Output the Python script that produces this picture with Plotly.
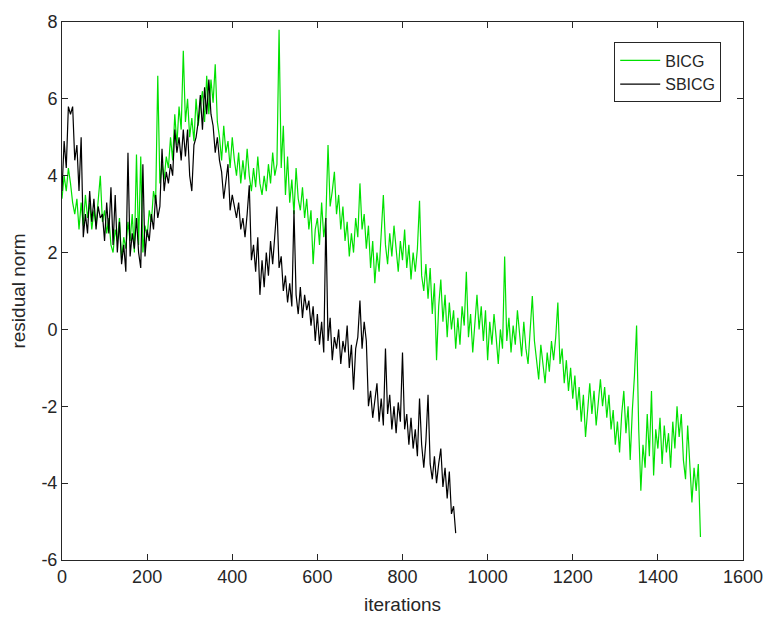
import numpy as np
import plotly.graph_objects as go

STEP = 5  # iteration spacing of the sampled values

# BICG residual norm, sampled every 5 iterations from 0 to 1500
bicg = [
    3.4, 4.0, 3.6, 4.2, 3.8, 3.3, 3.0, 3.4, 2.6, 3.3,
    2.7, 3.5, 2.9, 3.3, 2.6, 3.1, 2.7, 3.3, 4.0, 2.8,
    3.1, 2.5, 2.9, 2.2, 2.0, 2.6, 2.3, 2.9, 1.8, 2.4,
    2.1, 2.8, 2.3, 3.0, 2.0, 4.55, 2.2, 4.5, 2.0, 2.7,
    2.4, 3.1, 2.8, 3.6, 3.3, 6.6, 3.8, 4.3, 3.9, 4.5,
    4.2, 5.0, 4.4, 5.6, 4.8, 5.8, 5.2, 7.25, 5.4, 6.0,
    5.0, 5.5, 4.9, 6.0, 5.3, 5.8, 6.2, 5.4, 6.6, 5.6,
    6.5, 5.9, 6.9, 5.4, 5.0, 4.4, 5.3, 4.6, 4.9, 4.2,
    5.0, 4.4, 4.0, 4.6, 3.8, 4.4, 3.9, 4.7, 4.0, 3.6,
    4.2, 3.7, 4.5, 3.8, 3.5, 4.0, 3.6, 4.3, 3.8, 4.6,
    4.0, 4.3, 7.8, 4.2, 5.3, 3.5, 4.5, 3.3, 3.9, 3.0,
    4.2, 3.4, 3.1, 3.7, 2.9, 3.4, 2.6, 3.1, 1.7, 2.6,
    2.9, 2.2, 3.3, 2.4, 2.9, 4.8, 3.2, 3.6, 4.1, 3.0,
    3.5, 2.6, 3.2, 2.3, 2.8, 1.9, 2.5, 2.0, 2.9, 2.4,
    3.8, 2.6, 3.0, 2.1, 2.7, 1.6, 2.3, 1.2, 2.0, 1.5,
    2.4, 3.5, 2.2, 1.7, 2.5, 1.9, 2.7, 2.0, 1.5, 2.3,
    1.8, 2.6, 1.6, 2.2, 1.3, 2.0, 1.5, 2.1, 3.35, 1.4,
    1.0, 1.7, 0.8, 1.6, 0.4, 1.2, -0.8, 0.6, 1.3, 0.2,
    0.9, -0.2, 0.7, 0.0, 0.5, -0.5, 0.3, -0.4, 0.6, 0.1,
    1.5, -0.2, 0.4, -0.6, 0.3, 0.9, 0.0, 0.6, -0.3, 0.5,
    -0.8, 0.2, -0.4, 0.4, -0.2, -0.9, 0.0, -0.5, 1.9, -0.3,
    0.3, -0.6, 0.1, -0.4, 0.5, -0.2, -0.7, 0.2, -0.5, -0.9,
    0.0, 0.87, -0.3, -0.8, -1.3, -0.4, -1.0, -1.4, -0.6, -1.1,
    -0.3, -0.8, -0.2, 0.7, -0.9, -0.5, -1.4, -0.8, -1.6, -1.0,
    -1.8, -1.2, -2.1, -1.5, -2.4, -1.7, -2.8, -2.0, -1.4, -2.2,
    -1.6, -2.5, -1.9, -1.3, -2.0, -1.5, -2.3, -1.7, -2.6, -2.1,
    -3.0, -2.4, -3.2, -2.2, -1.6, -2.7, -2.0, -3.4, -2.1, -1.2,
    0.1, -2.6, -4.2, -3.0, -3.6, -2.2, -3.3, -1.6, -3.8, -2.6,
    -3.1, -2.3, -3.5, -2.5, -3.2, -2.7, -3.6, -2.4, -3.1, -2.0,
    -2.8, -2.2, -3.4, -3.9, -2.5, -3.7, -4.5, -3.6, -4.2, -3.5,
    -5.4,
]

# SBICG residual norm, sampled every 5 iterations from 0 to 930
sbicg = [
    3.6, 4.9, 4.2, 5.8, 5.6, 5.8, 4.4, 4.8, 3.6, 5.0,
    2.4, 3.0, 2.5, 3.6, 2.8, 3.4, 2.6, 3.2, 2.9, 3.0,
    2.3, 3.3, 2.5, 3.7, 2.2, 3.5, 2.0, 2.8, 1.7, 2.2,
    1.5, 4.6, 1.9, 2.5, 2.1, 2.9, 2.0, 1.6, 4.3, 1.9,
    2.6, 2.3, 3.0, 2.6, 3.5, 2.9, 3.2, 4.7, 3.6, 4.1,
    3.8, 4.3, 4.0, 5.2, 4.6, 5.0, 4.4, 5.2, 4.5, 5.2,
    4.0, 3.6, 4.8, 5.0, 5.4, 6.1, 5.2, 6.3, 5.6, 6.5,
    5.6, 5.3, 4.6, 5.0, 4.4, 4.1, 3.4, 3.9, 4.3, 3.1,
    3.5, 3.2, 2.9, 3.3, 2.6, 2.9, 2.4, 3.0, 3.75, 1.8,
    2.2, 1.5, 2.4, 0.9, 1.8, 1.1, 2.0, 1.4, 2.3, 1.7,
    2.5, 3.2, 1.6, 1.9, 1.0, 1.4, 0.7, 1.2, 0.6, 3.1,
    0.9, 0.4, 1.1, 0.3, 0.9, 0.5, 0.75, 0.1, 0.6, -0.3,
    0.4, -0.4, 0.2, -0.6, 2.9, -0.3, 0.3, -0.8, -0.2, -0.5,
    0.0, -0.9, -0.3, -0.6, 0.1, -1.0, -0.4, -1.57, -0.5, -0.2,
    0.75, -0.5, 0.2, -0.3, -2.0, -1.6, -2.3, -1.9, -1.4, -2.4,
    -1.8, -2.5, -0.5, -2.2, -1.7, -2.6, -2.0, -2.7, -1.9, -2.4,
    -0.6, -2.6, -2.2, -3.0, -2.3, -3.1, -2.6, -3.3, -1.8, -3.0,
    -3.6, -2.9, -1.7, -3.5, -3.9, -3.3, -4.0, -3.5, -3.1, -4.1,
    -3.6, -4.4, -3.7, -4.8, -4.6, -5.3,
]

x_ticks = [0, 200, 400, 600, 800, 1000, 1200, 1400, 1600]
y_ticks = [-6, -4, -2, 0, 2, 4, 6, 8]
y_tick_text = ["-6", "-4", "-2", "0", "2", "4", "6", "8"]

it_bicg = np.arange(len(bicg)) * STEP
it_sbicg = np.arange(len(sbicg)) * STEP

FONT = "Liberation Sans, Arial, sans-serif"
TXT = "#262626"
AX = "#262626"

fig = go.Figure()
fig.add_trace(go.Scatter(x=it_bicg, y=bicg, mode="lines", name="BICG",
                         line=dict(color="rgb(0,225,0)", width=1.2)))
fig.add_trace(go.Scatter(x=it_sbicg, y=sbicg, mode="lines", name="SBICG",
                         line=dict(color="black", width=1.2)))

axis_common = dict(showline=True, linecolor=AX, linewidth=1, mirror="ticks",
                   ticks="inside", ticklen=6, tickcolor=AX, tickwidth=1,
                   showgrid=False, zeroline=False,
                   tickfont=dict(family=FONT, size=18, color=TXT))

fig.update_layout(
    width=775, height=624,
    margin=dict(l=62, r=22, t=18, b=62),
    paper_bgcolor="white", plot_bgcolor="white",
    font=dict(family=FONT, color=TXT),
    xaxis=dict(range=[0, 1600], tickvals=x_ticks, **axis_common,
               title=dict(text="iterations", font=dict(family=FONT, size=19, color=TXT), standoff=12)),
    yaxis=dict(range=[-6, 8], tickvals=y_ticks, ticktext=y_tick_text, **axis_common,
               title=dict(text="residual norm", font=dict(family=FONT, size=19, color=TXT), standoff=10)),
    legend=dict(x=0.968, y=0.962, xanchor="right", yanchor="top",
                bgcolor="white", bordercolor="#262626", borderwidth=1,
                font=dict(family=FONT, size=16, color=TXT),
                tracegroupgap=0, itemwidth=40),
    showlegend=True,
)

fig.write_html("out.html")
